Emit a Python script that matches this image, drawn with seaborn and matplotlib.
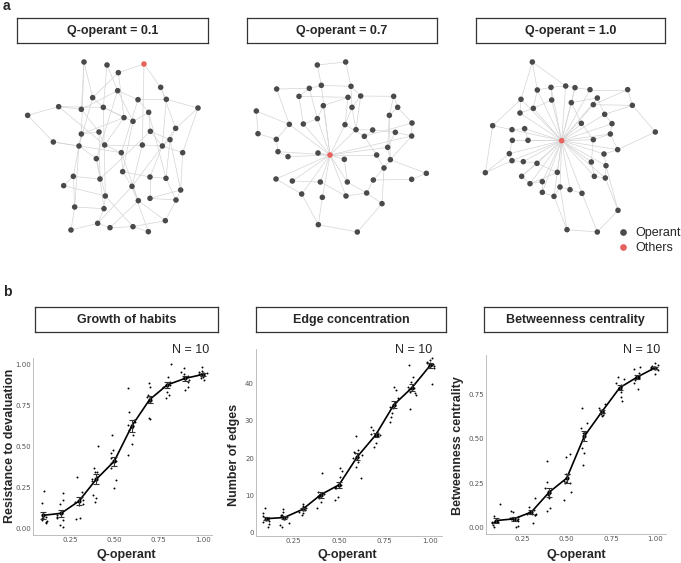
import numpy as np
import pandas as pd
import matplotlib.pyplot as plt
import seaborn as sns
from matplotlib.ticker import FormatStrFormatter

sns.set_theme(style='white')
plt.rcParams['font.family'] = ['Liberation Sans', 'DejaVu Sans']

# ---- panel a: network layouts (layout units) ----
net1_x = [252, 321, 432, 355, 482, 353, 278, 414, 499, 176, 244, 310, 594, 83, 446, 372, 399, 527, 244, 297,
          451, 160, 237, 314, 427, 487, 510, 364, 548, 289, 368, 220, 300, 450, 498, 191, 396, 542, 316, 415,
          450, 528, 224, 312, 496, 293, 330, 399, 213, 445]
net1_y = [186, 195, 192, 218, 262, 272, 293, 299, 298, 320, 328, 322, 324, 346, 337, 353, 364, 385, 402, 396,
          394, 426, 438, 435, 435, 438, 419, 458, 458, 476, 515, 529, 537, 531, 535, 557, 559, 570, 588, 602,
          595, 600, 621, 626, 662, 670, 683, 680, 690, 695]
net1_hub = 3
net1_edges = [(1, 11), (1, 19), (1, 7), (2, 6), (2, 12), (3, 4), (3, 5), (3, 25), (4, 7), (4, 16), (5, 9), (5, 18),
              (6, 8), (6, 17), (6, 11), (7, 12), (7, 23), (8, 15), (8, 28), (8, 9), (9, 13), (9, 26), (10, 14),
              (10, 11), (10, 12), (10, 24), (11, 20), (12, 16), (12, 17), (13, 18), (13, 29), (14, 22), (15, 17),
              (15, 21), (15, 35), (16, 19), (16, 24), (17, 31), (18, 27), (18, 37), (19, 20), (19, 23), (19, 32),
              (20, 24), (20, 33), (21, 27), (21, 26), (22, 23), (22, 28), (23, 30), (23, 43), (24, 25), (24, 28),
              (25, 26), (25, 37), (26, 27), (26, 29), (26, 34), (27, 35), (27, 38), (28, 31), (29, 38), (30, 33),
              (30, 39), (31, 34), (31, 37), (32, 36), (32, 43), (32, 33), (33, 44), (34, 35), (34, 41), (35, 42),
              (36, 39), (37, 40), (37, 46), (37, 50), (38, 42), (38, 41), (39, 44), (39, 48), (40, 45), (40, 47),
              (41, 42), (42, 45), (43, 44), (43, 49), (44, 46), (45, 48), (46, 47), (47, 48), (48, 50), (49, 46),
              (6, 30), (28, 40), (12, 39), (21, 33)]

net2_x = [262, 347, 274, 140, 238, 363, 207, 354, 392, 491, 280, 366, 503, 79, 262, 478, 178, 220, 345, 546,
          378, 428, 84, 139, 403, 496, 545, 144, 174, 264, 300, 343, 440, 473, 481, 462, 589, 138, 187, 271,
          352, 430, 545, 215, 277, 348, 410, 456, 265, 382]
net2_y = [195, 186, 256, 267, 265, 259, 289, 292, 288, 289, 317, 322, 322, 333, 356, 346, 373, 372, 374, 369,
          389, 390, 401, 418, 409, 397, 408, 455, 470, 459, 465, 478, 465, 442, 479, 504, 520, 537, 543, 546,
          546, 540, 538, 582, 592, 588, 579, 611, 674, 696]
net2_hub = 31
net2_edges = [(1, 2), (1, 3), (2, 6), (3, 5), (3, 6), (3, 31), (4, 5), (4, 17), (5, 7), (5, 15), (6, 9), (6, 12),
              (7, 8), (7, 18), (8, 11), (8, 19), (9, 12), (9, 21), (9, 10), (10, 13), (10, 16), (11, 31), (11, 15),
              (12, 21), (12, 19), (13, 16), (13, 20), (14, 23), (14, 17), (15, 18), (15, 31), (16, 35), (16, 34),
              (17, 24), (17, 31), (18, 31), (19, 31), (19, 25), (20, 25), (20, 27), (21, 22), (21, 31), (22, 25),
              (22, 26), (23, 24), (24, 28), (25, 33), (26, 27), (26, 34), (27, 35), (28, 31), (28, 29), (29, 31),
              (30, 31), (31, 32), (31, 33), (31, 34), (31, 38), (31, 39), (31, 40), (31, 41), (31, 44), (31, 45),
              (31, 46), (31, 27), (32, 41), (33, 36), (34, 35), (35, 36), (35, 37), (36, 42), (37, 43), (38, 44),
              (39, 40), (40, 46), (41, 47), (42, 47), (43, 42), (44, 49), (45, 49), (46, 47), (47, 48), (48, 50),
              (49, 50), (36, 48)]

net3_x = [217, 232, 273, 317, 345, 390, 503, 183, 275, 334, 412, 400, 517, 220, 180, 434, 98, 156, 194, 364,
          456, 451, 157, 204, 305, 400, 586, 148, 473, 432, 156, 190, 231, 394, 438, 76, 292, 185, 403, 436,
          247, 210, 300, 330, 247, 282, 366, 474, 321, 412]
net3_y = [186, 270, 262, 258, 263, 269, 269, 298, 300, 308, 294, 314, 316, 325, 339, 343, 377, 389, 386, 370,
          371, 402, 421, 421, 422, 419, 396, 461, 449, 462, 482, 485, 490, 486, 497, 518, 517, 529, 529, 534,
          545, 551, 561, 569, 577, 589, 580, 631, 689, 696]
net3_hub = 25
net3_leaves = [2, 3, 4, 5, 6, 8, 9, 10, 11, 12, 14, 15, 16, 18, 19, 20, 21, 22, 23, 24, 26, 28, 29, 30, 31,
               32, 33, 34, 35, 37, 38, 39, 40, 41, 42, 43, 44, 45, 46, 47]
net3_edges = [(1, 8), (1, 4), (1, 2), (2, 3), (3, 4), (4, 5), (5, 6), (6, 7), (7, 13), (7, 12), (13, 12),
              (12, 11), (11, 10), (13, 16), (16, 21), (21, 22), (22, 29), (29, 27), (27, 13), (29, 30), (30, 35),
              (35, 40), (40, 39), (39, 34), (34, 26), (26, 20), (20, 10), (40, 48), (48, 50), (50, 47), (47, 44),
              (44, 43), (43, 46), (46, 45), (45, 41), (41, 42), (42, 38), (38, 33), (33, 32), (32, 31), (31, 28),
              (28, 23), (23, 24), (24, 19), (19, 18), (18, 17), (17, 8), (17, 36), (36, 28), (36, 31), (8, 15),
              (15, 14), (14, 9), (9, 3), (49, 50), (49, 46), (49, 43), (37, 42), (37, 33), (35, 48), (22, 26),
              (11, 16), (5, 10), (2, 14)] + [(25, k) for k in net3_leaves]

# ---- panel b: simulation results, 10 runs per Q-operant level ----
q_levels = [0.1, 0.2, 0.3, 0.4, 0.5, 0.6, 0.7, 0.8, 0.9, 1.0]
habits = [
    [0.227, 0.154, 0.07, 0.06, 0.055, 0.045, 0.04, 0.03, 0.06, 0.05],
    [0.213, 0.172, 0.146, 0.09, 0.08, 0.07, 0.02, 0.01, 0.06, 0.05],
    [0.314, 0.223, 0.19, 0.17, 0.16, 0.18, 0.14, 0.15, 0.065, 0.057],
    [0.503, 0.365, 0.345, 0.315, 0.30, 0.285, 0.20, 0.183, 0.163, 0.34],
    [0.568, 0.477, 0.456, 0.426, 0.41, 0.43, 0.40, 0.37, 0.294, 0.247],
    [0.852, 0.71, 0.66, 0.63, 0.60, 0.57, 0.511, 0.446, 0.61, 0.65],
    [0.882, 0.862, 0.79, 0.78, 0.77, 0.81, 0.80, 0.665, 0.673, 0.80],
    [1.0, 0.923, 0.89, 0.88, 0.87, 0.86, 0.83, 0.81, 0.795, 0.875],
    [0.974, 0.953, 0.937, 0.923, 0.913, 0.903, 0.888, 0.862, 0.842, 0.93],
    [0.98, 0.957, 0.949, 0.943, 0.937, 0.929, 0.923, 0.913, 0.903, 0.933],
]
n_edges = [
    [6.7, 5.2, 4.5, 4.0, 3.7, 3.2, 2.8, 2.3, 1.4, 3.8],
    [6.3, 5.6, 4.7, 4.3, 4.8, 4.5, 2.5, 2.0, 1.4, 4.6],
    [7.7, 7.1, 6.7, 6.3, 6.1, 5.6, 5.2, 4.7, 6.5, 6.6],
    [16.1, 11.0, 10.5, 10.1, 9.6, 9.2, 8.3, 6.7, 10.4, 9.9],
    [17.2, 16.5, 15.0, 12.0, 12.2, 12.3, 11.9, 9.6, 8.75, 12.8],
    [26.0, 22.1, 21.7, 21.3, 20.4, 19.9, 19.0, 17.7, 14.6, 20.8],
    [28.4, 27.5, 26.9, 26.4, 26.0, 26.5, 26.5, 23.9, 23.0, 26.2],
    [39.1, 38.2, 36.0, 35.1, 34.2, 33.3, 32.0, 31.1, 29.7, 33.8],
    [44.9, 41.8, 40.4, 37.5, 38.8, 38.5, 37.8, 36.9, 33.0, 39.1],
    [46.9, 46.3, 45.6, 45.3, 44.9, 44.6, 44.2, 45.5, 39.8, 45.4],
]
betweenness = [
    [0.133, 0.067, 0.03, 0.03, 0.037, 0.03, 0.024, 0.015, 0.006, 0.034],
    [0.094, 0.09, 0.062, 0.052, 0.049, 0.043, 0.037, 0.006, 0.009, 0.056],
    [0.165, 0.118, 0.1, 0.09, 0.08, 0.08, 0.07, 0.071, 0.028, 0.08],
    [0.375, 0.258, 0.221, 0.202, 0.193, 0.184, 0.165, 0.109, 0.094, 0.19],
    [0.412, 0.40, 0.30, 0.30, 0.26, 0.25, 0.258, 0.202, 0.155, 0.25],
    [0.67, 0.586, 0.558, 0.53, 0.517, 0.53, 0.446, 0.418, 0.35, 0.539],
    [0.693, 0.67, 0.661, 0.655, 0.652, 0.646, 0.639, 0.633, 0.629, 0.652],
    [0.845, 0.833, 0.811, 0.801, 0.792, 0.783, 0.764, 0.736, 0.712, 0.787],
    [0.904, 0.891, 0.867, 0.854, 0.845, 0.839, 0.83, 0.811, 0.777, 0.848],
    [0.923, 0.914, 0.908, 0.903, 0.899, 0.895, 0.891, 0.886, 0.863, 0.904],
]

W, H = 681, 563
fig = plt.figure(figsize=(W / 100, H / 100), dpi=100)


def px_axes(left, top, width, height):
    return fig.add_axes([left / W, 1 - (top + height) / H, width / W, height / H])


def fig_text(x, y, s, **kw):
    fig.text(x / W, 1 - y / H, s, **kw)


def strip(left, top, width, height, text):
    ax = px_axes(left, top, width, height)
    ax.set_xticks([])
    ax.set_yticks([])
    for sp in ax.spines.values():
        sp.set_visible(True)
        sp.set_color('#333333')
        sp.set_linewidth(0.9)
    # baseline placed so the capitals sit in the middle of the box
    ax.text(0.5, 0.5 - 3.8 / height, text, ha='center', va='baseline', fontsize=9,
            fontweight='bold', transform=ax.transAxes)


def draw_network(left, xs, ys, hub, edges, show_legend=False):
    ax = px_axes(left, 0, 220, 250)
    for a, b in edges:
        ax.plot([xs[a - 1], xs[b - 1]], [ys[a - 1], ys[b - 1]], color='#d4d4d4', lw=0.5, zorder=1)
    nodes = pd.DataFrame({'x': xs, 'y': ys,
                          'type': ['Others' if i == hub - 1 else 'Operant' for i in range(len(xs))]})
    sns.scatterplot(data=nodes, x='x', y='y', hue='type', hue_order=['Operant', 'Others'],
                    palette={'Operant': '#4a4a4a', 'Others': '#e8615d'}, s=16, linewidth=0,
                    ax=ax, legend=show_legend, zorder=3)
    ax.set_xlim(0, 660)
    ax.set_ylim(750, 0)
    ax.axis('off')
    if show_legend:
        ax.legend(title=None, frameon=False, loc='upper left',
                  bbox_to_anchor=(617 / W, 1 - 227 / H), bbox_transform=fig.transFigure,
                  fontsize=9, handlelength=1, handletextpad=0.5, labelspacing=0.25,
                  borderpad=0, borderaxespad=0, markerscale=1.2)


def draw_panel(box, vals, xlim, ylim, yticks, yfmt):
    left, top, width, height = box
    ax = px_axes(left, top, width, height)
    df = pd.DataFrame({'q': np.repeat(q_levels, 10), 'value': np.concatenate(vals)})
    sns.stripplot(data=df, x='q', y='value', native_scale=True, jitter=0.25, size=1.4,
                  color='black', ax=ax, zorder=1)
    sns.lineplot(data=df, x='q', y='value', errorbar='se', err_style='bars', color='black', lw=1.2,
                 marker='o', markersize=3, markeredgewidth=0,
                 err_kws={'capsize': 2.5, 'elinewidth': 0.8, 'capthick': 0.8, 'ecolor': '#333333'},
                 ax=ax)
    ax.set_xlim(*xlim)
    ax.set_ylim(*ylim)
    ax.set_xticks([0.25, 0.5, 0.75, 1.0])
    ax.set_yticks(yticks)
    ax.xaxis.set_major_formatter(FormatStrFormatter('%.2f'))
    ax.yaxis.set_major_formatter(FormatStrFormatter(yfmt))
    ax.tick_params(length=0, pad=1.5, labelsize=5, colors='#555555')
    for lab in ax.get_xticklabels() + ax.get_yticklabels():
        lab.set_fontfamily('DejaVu Sans')
    ax.set_xlabel('')
    ax.set_ylabel('')
    for side in ['top', 'right']:
        ax.spines[side].set_visible(False)
    for side in ['left', 'bottom']:
        ax.spines[side].set_color('#b3b3b3')
        ax.spines[side].set_linewidth(0.6)
    return ax


# ---- panel a ----
fig_text(3, 6, 'a', fontsize=10, fontweight='bold', va='center')
strip(17, 18, 191, 25, 'Q-operant = 0.1')
strip(247, 18, 190, 25, 'Q-operant = 0.7')
strip(476, 18, 189, 25, 'Q-operant = 1.0')
draw_network(0, net1_x, net1_y, net1_hub, net1_edges)
draw_network(230, net2_x, net2_y, net2_hub, net2_edges)
draw_network(460, net3_x, net3_y, net3_hub, net3_edges, show_legend=True)

# ---- panel b ----
fig_text(3, 292, 'b', fontsize=10, fontweight='bold', va='center')
strip(35, 307, 183, 25, 'Growth of habits')
strip(256, 307, 190, 25, 'Edge concentration')
strip(484, 307, 183, 25, 'Betweenness centrality')

draw_panel((33, 358, 179, 177), habits, (0.041, 1.053), (-0.041, 1.037),
           [0, 0.25, 0.5, 0.75, 1.0], '%.2f')
draw_panel((256, 349, 186, 187), n_edges, (0.045, 1.064), (-0.88, 49.2),
           [0, 10, 20, 30, 40], '%d')
draw_panel((486, 355, 180, 179), betweenness, (0.043, 1.062), (-0.035, 0.970),
           [0, 0.25, 0.5, 0.75], '%.2f')

for x_px, y_px, label in [(10, 446, 'Resistance to devaluation'), (234, 455, 'Number of edges'),
                          (458, 446, 'Betweenness centrality')]:
    fig_text(x_px, y_px, label, rotation=90, ha='center', va='center', fontsize=9, fontweight='bold')
for x_px in [126, 347, 576]:
    fig_text(x_px, 555, 'Q-operant', ha='center', va='center', fontsize=9, fontweight='bold')
for x_px in [209, 432, 660]:
    fig_text(x_px, 350, 'N = 10', ha='right', va='center', fontsize=9)

fig.savefig('out.png', dpi=100)
